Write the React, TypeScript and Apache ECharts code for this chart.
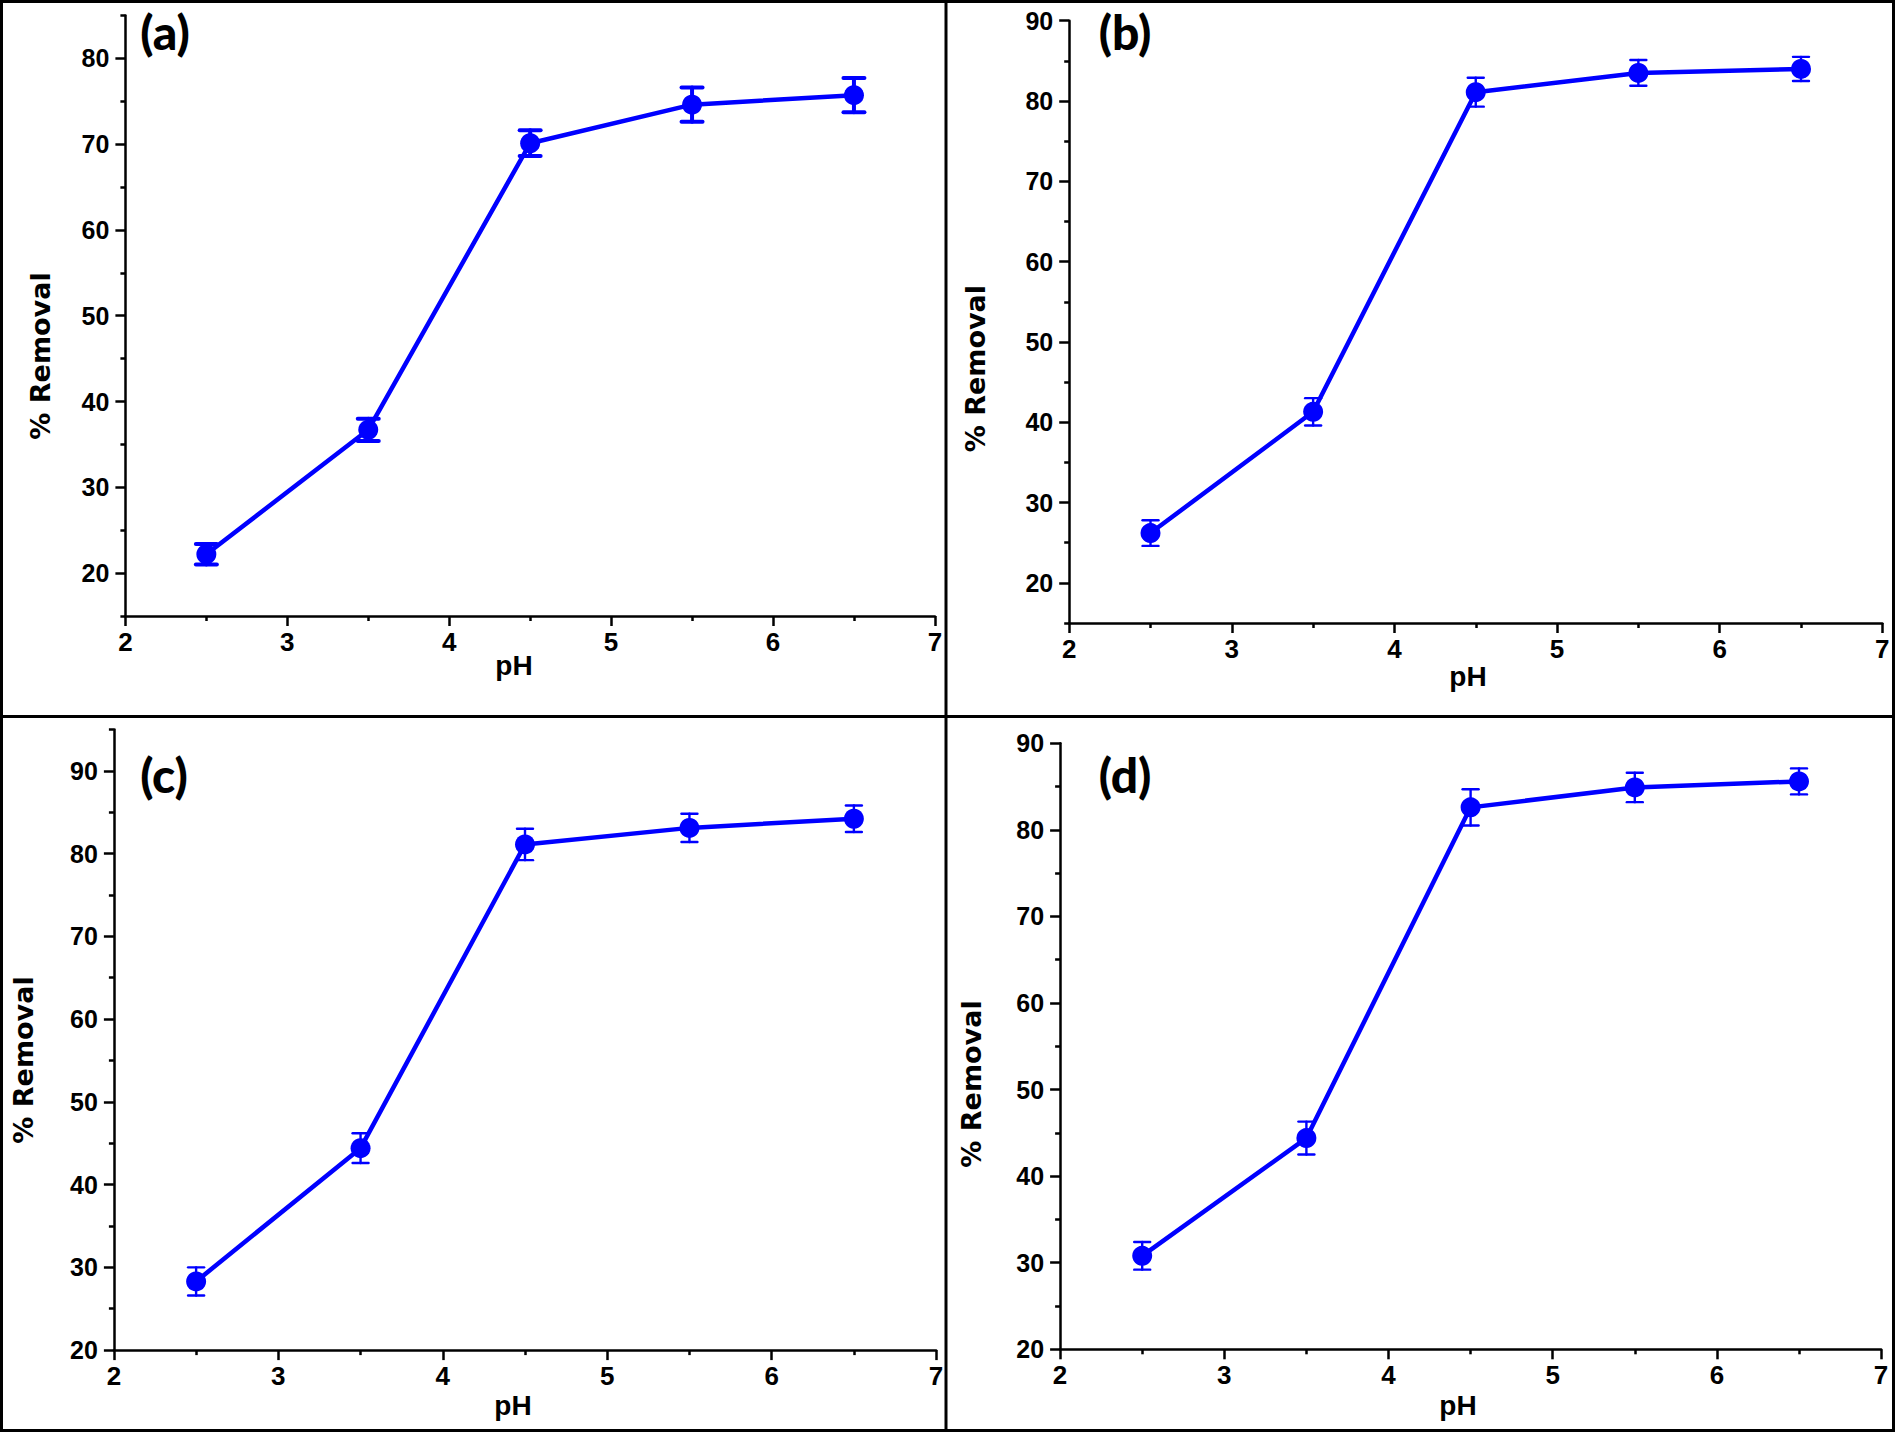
import React, { useEffect, useRef } from "react";
import * as echarts from "echarts";

// ---- data ----
const phValues = [2.5, 3.5, 4.5, 5.5, 6.5];

const removalA = [22.2, 36.7, 70.1, 74.6, 75.7];
const errorA = [1.2, 1.3, 1.5, 2.0, 2.0];

const removalB = [26.2, 41.3, 81.1, 83.5, 84.0];
const errorB = [1.6, 1.7, 1.8, 1.6, 1.5];

const removalC = [28.3, 44.4, 81.1, 83.1, 84.2];
const errorC = [1.7, 1.8, 1.9, 1.7, 1.6];

const removalD = [30.8, 44.4, 82.6, 84.9, 85.6];
const errorD = [1.6, 1.9, 2.1, 1.7, 1.5];

const yMajorA = [20, 30, 40, 50, 60, 70, 80];
const yMinorA = [15, 25, 35, 45, 55, 65, 75, 85];
const yMajorB = [20, 30, 40, 50, 60, 70, 80, 90];
const yMinorB = [15, 25, 35, 45, 55, 65, 75, 85];
const yMajorC = [20, 30, 40, 50, 60, 70, 80, 90];
const yMinorC = [25, 35, 45, 55, 65, 75, 85, 95];
const yMajorD = [20, 30, 40, 50, 60, 70, 80, 90];
const yMinorD = [25, 35, 45, 55, 65, 75, 85];

const panelLabels = ["(a)", "(b)", "(c)", "(d)"];
const xTitle = "pH";
const yTitle = "% Removal";

// ---- layout ----
const panels = [
  { label: panelLabels[0], values: removalA, errors: errorA, yMin: 15, yMax: 85, major: yMajorA, minor: yMinorA,
    grid: { left: 125.4, top: 15.4, width: 809.5, height: 600.6 }, cap: 10.5, ebw: 4,
    yT: [40.5, 356], xT: [514, 665], tag: [165, 31] },
  { label: panelLabels[1], values: removalB, errors: errorB, yMin: 15, yMax: 90, major: yMajorB, minor: yMinorB,
    grid: { left: 1069.2, top: 20.7, width: 813.1, height: 602.3 }, cap: 8, ebw: 2.4,
    yT: [975, 368.6], xT: [1468, 676], tag: [1125, 31] },
  { label: panelLabels[2], values: removalC, errors: errorC, yMin: 20, yMax: 95, major: yMajorC, minor: yMinorC,
    grid: { left: 113.9, top: 729.4, width: 822.2, height: 620.7 }, cap: 8, ebw: 2.4,
    yT: [23, 1060], xT: [513, 1405], tag: [164, 774] },
  { label: panelLabels[3], values: removalD, errors: errorD, yMin: 20, yMax: 90, major: yMajorD, minor: yMinorD,
    grid: { left: 1060.1, top: 743.3, width: 821, height: 606 }, cap: 8, ebw: 2.4,
    yT: [971, 1084], xT: [1458, 1405], tag: [1125, 774] },
];

const BLUE = "#0000ff";
const tickFont = { fontFamily: "Liberation Sans, Arial, sans-serif", fontWeight: "bold" as const, color: "#000" };

export default function App() {
  const ref = useRef<HTMLDivElement>(null);
  useEffect(() => {
    if (!ref.current) return;
    const chart = echarts.init(ref.current, undefined, { renderer: "svg" });

    const grids = panels.map((p) => ({ ...p.grid, containLabel: false, outerBoundsMode: "none" }));
    const xAxes = panels.map((p, i) => ({
      type: "value", gridIndex: i, min: 2, max: 7, interval: 1,
      axisLine: { show: true, onZero: false, lineStyle: { color: "#000", width: 2.5 } },
      axisTick: { show: true, length: 10, lineStyle: { color: "#000", width: 2.5 } },
      minorTick: { show: true, splitNumber: 2, length: 5, lineStyle: { color: "#000", width: 2.5 } },
      splitLine: { show: false }, minorSplitLine: { show: false },
      axisLabel: { ...tickFont, fontSize: 26, margin: 13 },
    }));
    const yAxesMain = panels.map((p, i) => ({
      type: "value", gridIndex: i, min: p.yMin, max: p.yMax, interval: 5, position: "left",
      axisLine: { show: true, onZero: false, lineStyle: { color: "#000", width: 2.5 } },
      axisTick: { show: true, length: 10, customValues: p.major, lineStyle: { color: "#000", width: 2.5 } },
      splitLine: { show: false },
      axisLabel: { ...tickFont, fontSize: 25, margin: 16, customValues: p.major },
    }));
    const yAxesMinor = panels.map((p, i) => ({
      type: "value", gridIndex: i, min: p.yMin, max: p.yMax, interval: 5, position: "left", offset: 0,
      axisLine: { show: false, onZero: false },
      axisTick: { show: true, length: 5, customValues: p.minor, lineStyle: { color: "#000", width: 2.5 } },
      splitLine: { show: false },
      axisLabel: { show: false },
    }));

    const series: any[] = [];
    panels.forEach((p, i) => {
      series.push({
        type: "custom", xAxisIndex: i, yAxisIndex: i, z: 2,
        data: phValues.map((x, j) => [x, p.values[j], p.errors[j]]),
        encode: { x: 0, y: 1 },
        renderItem: (params: any, api: any) => {
          const x = api.value(0), y = api.value(1), e = api.value(2);
          const t = api.coord([x, y + e]);
          const b = api.coord([x, y - e]);
          const style = { stroke: BLUE, lineWidth: p.ebw, fill: null, lineCap: "round" };
          return {
            type: "group",
            children: [
              { type: "line", shape: { x1: t[0], y1: t[1], x2: b[0], y2: b[1] }, style },
              { type: "line", shape: { x1: t[0] - p.cap, y1: t[1], x2: t[0] + p.cap, y2: t[1] }, style },
              { type: "line", shape: { x1: b[0] - p.cap, y1: b[1], x2: b[0] + p.cap, y2: b[1] }, style },
            ],
          };
        },
      });
      series.push({
        type: "line", xAxisIndex: i, yAxisIndex: i, z: 3,
        data: phValues.map((x, j) => [x, p.values[j]]),
        symbol: "circle", symbolSize: 20,
        lineStyle: { color: BLUE, width: 4.5 },
        itemStyle: { color: BLUE },
      });
    });

    const graphic: any[] = [
      { type: "rect", shape: { x: 1.5, y: 1.5, width: 1892, height: 1429 }, style: { fill: null, stroke: "#000", lineWidth: 3 }, silent: true },
      { type: "line", shape: { x1: 946, y1: 0, x2: 946, y2: 1432 }, style: { stroke: "#000", lineWidth: 3 }, silent: true },
      { type: "line", shape: { x1: 0, y1: 716.5, x2: 1895, y2: 716.5 }, style: { stroke: "#000", lineWidth: 3 }, silent: true },
    ];
    panels.forEach((p) => {
      graphic.push({
        type: "text", x: p.yT[0], y: p.yT[1], rotation: Math.PI / 2,
        style: { text: yTitle, fontFamily: "DejaVu Sans, sans-serif", fontWeight: "bold", fontSize: 27, fill: "#000", align: "center", verticalAlign: "middle" },
      });
      graphic.push({
        type: "text", x: p.xT[0], y: p.xT[1],
        style: { text: xTitle, fontFamily: "Liberation Sans, Arial, sans-serif", fontWeight: "bold", fontSize: 28, fill: "#000", align: "center", verticalAlign: "middle" },
      });
      graphic.push({
        type: "text", x: p.tag[0], y: p.tag[1],
        style: { text: p.label, fontFamily: "Lato, sans-serif", fontWeight: 900, fontSize: 48, fill: "#000", align: "center", verticalAlign: "middle" },
      });
    });

    chart.setOption({
      animation: false,
      backgroundColor: "#fff",
      grid: grids,
      xAxis: xAxes,
      yAxis: [...yAxesMain, ...yAxesMinor],
      series,
      graphic,
    });
    return () => chart.dispose();
  }, []);
  return <div ref={ref} style={{ position: "absolute", left: 0, top: 0, width: 1895, height: 1432 }} />;
}
